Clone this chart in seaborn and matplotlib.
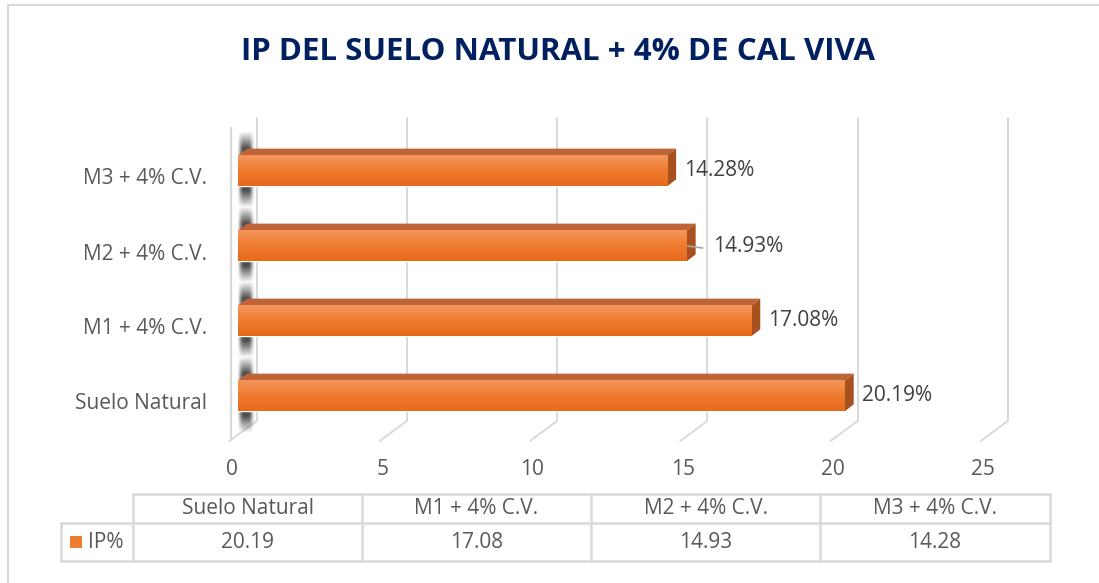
import numpy as np
import matplotlib
matplotlib.use("Agg")
import matplotlib.pyplot as plt
from matplotlib.patches import Polygon, Rectangle
from matplotlib.colors import LinearSegmentedColormap
import seaborn as sns

# data
categories = ["Suelo Natural", "M1 + 4% C.V.", "M2 + 4% C.V.", "M3 + 4% C.V."]
ip_values = [20.19, 17.08, 14.93, 14.28]
series_name = "IP%"
x_ticks = [0, 5, 10, 15, 20, 25]
title = "IP DEL SUELO NATURAL + 4% DE CAL VIVA"

sns.set_style("white")
plt.rcParams["font.family"] = ["Open Sans", "DejaVu Sans"]

W, H = 1099, 583
GRAY_TXT = "#595959"
GRID = "#D9D9D9"
ORANGE = "#ED7D31"
FS = 15

# pixel layout of the plot area
X0, SX = 238, 30.05      # x pixel of value 0, px per unit
Y0, SY = 171, 75.0       # y pixel of first (top) bar, px per category
TOP, BOT = 118, 442

fig = plt.figure(figsize=(W / 100, H / 100), dpi=100)

# background layer in pixel coords
bg = fig.add_axes([0, 0, 1, 1], zorder=0)
bg.set_xlim(0, W)
bg.set_ylim(H, 0)
bg.axis("off")

ax = fig.add_axes([X0 / W, 1 - BOT / H, 25 * SX / W, (BOT - TOP) / H], zorder=1)
ax.patch.set_alpha(0)

order = categories[::-1]
sns.barplot(x=ip_values, y=categories, order=order, orient="h", color=ORANGE,
            width=0.41, saturation=1, ax=ax, zorder=3)

def yi(p):
    return (p - Y0) / SY

ax.set_xlim(0, 25)
ax.set_ylim(yi(BOT), yi(TOP))
ax.axis("off")

# back-wall gridlines with 3D floor slant
back = 18.5 / SX
for v in x_ticks:
    bx = v + back
    ax.plot([bx, bx], [yi(TOP), yi(421)], color=GRID, lw=1.4, zorder=0, clip_on=False)
    ax.plot([bx, bx - 27 / SX], [yi(421), yi(441)], color=GRID, lw=1.4, zorder=0, clip_on=False)
    ax.text(v - 6 / SX, yi(470), str(v), ha="center", va="center", fontsize=FS,
            color=GRAY_TXT, clip_on=False)

# left wall
ax.plot([-7 / SX, -7 / SX], [yi(128), yi(438)], color=GRID, lw=1.6, clip_on=False, zorder=0)

# soft shadow image used at the left end of each bar
sx = np.linspace(-1, 1, 40)
sy = np.linspace(0, 1, 80)
fx = np.exp(-(np.abs(sx) / 0.6) ** 4)
fy = np.clip(np.minimum(sy, 1 - sy) / 0.22, 0, 1)
shadow = np.zeros((80, 40, 4))
shadow[..., :3] = 0.22
shadow[..., 3] = 0.9 * fy[:, None] * fx[None, :]

# 3D faces, gradient and labels for each bar
cmap = LinearSegmentedColormap.from_list("bar", ["#F4965C", "#EF7B2F", "#E66A1C"])
grad = np.linspace(0, 1, 64).reshape(-1, 1)
ox, oy = 9 / SX, -7 / SY
label_shift = {"M2 + 4% C.V.": 26}
for patch, cat in zip(ax.patches, order):
    v = patch.get_width()
    y = patch.get_y()
    h = patch.get_height()
    ax.imshow(shadow, extent=[-3 / SX, 19 / SX, y + h + 22 / SY, y - 24 / SY],
              origin="upper", aspect="auto", zorder=1, interpolation="bilinear")
    ax.imshow(grad, extent=[0, v, y + h, y], origin="upper", aspect="auto",
              cmap=cmap, clip_path=patch, zorder=3.5)
    ax.add_patch(Polygon([(0, y), (v, y), (v + ox, y + oy), (ox, y + oy)],
                         closed=True, color="#BF6438", lw=0, zorder=3))
    ax.add_patch(Polygon([(v, y), (v + ox, y + oy), (v + ox, y + h + oy), (v, y + h)],
                         closed=True, color="#A7511F", lw=0, zorder=3))
    shift = label_shift.get(cat, 17)
    if shift > 17:
        ax.plot([v + 1 / SX, v + 16 / SX], [y + h / 2, y + h / 2 + 2 / SY],
                color="#A6A6A6", lw=1.2, zorder=4, clip_on=False)
    ax.text(v + shift / SX, y + h / 2, f"{v:.2f}%", va="center", ha="left",
            fontsize=FS, color="#404040", clip_on=False)
    ax.text((207 - X0) / SX, y + h / 2 + 8 / SY, cat, va="center", ha="right",
            fontsize=FS, color=GRAY_TXT, clip_on=False)

ax.set_xlim(0, 25)
ax.set_ylim(yi(BOT), yi(TOP))

# chart border (only left and top visible)
bg.plot([8, W], [5, 5], color=GRID, lw=1.5)
bg.plot([8, 8], [5, H], color=GRID, lw=1.5)

# title
bg.text(558, 52, title, ha="center", va="center", fontsize=22.5, fontweight="bold",
        color="#002060")

# data table
cols = [133, 362, 591, 820, 1050]
r0, r1, r2 = 494, 523, 561
tkw = dict(color=GRID, lw=1.8)
bg.plot([cols[0], cols[-1]], [r0, r0], **tkw)
bg.plot([61, cols[-1]], [r1, r1], **tkw)
bg.plot([61, cols[-1]], [r2, r2], **tkw)
bg.plot([61, 61], [r1, r2], **tkw)
for c in cols:
    bg.plot([c, c], [r0, r2], **tkw)
for k, (cat, val) in enumerate(zip(categories, ip_values)):
    cx = (cols[k] + cols[k + 1]) / 2
    bg.text(cx, (r0 + r1) / 2, cat, ha="center", va="center", fontsize=FS, color=GRAY_TXT)
    bg.text(cx, (r1 + r2) / 2, f"{val:.2f}", ha="center", va="center", fontsize=FS,
            color=GRAY_TXT)
bg.add_patch(Rectangle((70, 536), 12, 12, color=ORANGE, lw=0))
bg.text(88, (r1 + r2) / 2, series_name, ha="left", va="center", fontsize=FS, color=GRAY_TXT)

fig.savefig("out.png", dpi=100)
